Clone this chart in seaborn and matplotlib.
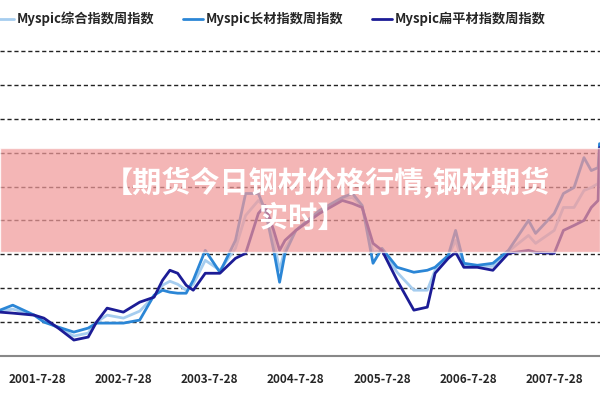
import matplotlib
matplotlib.use("Agg")
import matplotlib.pyplot as plt
import matplotlib.patches as mpatches
from matplotlib.lines import Line2D
import seaborn as sns
import pandas as pd

dates = ["2001-02-20","2001-04-15","2001-07-15","2001-08-25","2001-10-25","2001-12-30",
         "2002-03-01","2002-04-05","2002-05-20","2002-07-28","2002-10-05","2002-12-05",
         "2003-01-10","2003-02-10","2003-03-15","2003-04-20","2003-05-20","2003-07-10",
         "2003-09-10","2003-11-15","2003-12-28","2004-02-20","2004-03-20","2004-04-25",
         "2004-05-20","2004-06-12","2004-07-28","2004-11-05","2005-02-10","2005-03-25",
         "2005-05-05","2005-06-20","2005-07-28","2005-09-30","2005-12-10","2006-02-05",
         "2006-03-10","2006-05-05","2006-06-05","2006-07-10","2006-09-05","2006-11-10",
         "2007-01-15","2007-04-10","2007-05-10","2007-07-28","2007-09-05","2007-10-20",
         "2007-12-01","2008-01-01","2008-01-30","2008-02-05"]
long_idx = [46,51,41,34,29,24,28,33,33,33,36,61,66,64,63,63,76,106,84,116,163,163,146,106,
            74,103,126,146,159,163,151,93,108,89,84,86,89,101,126,93,91,93,106,136,123,143,
            163,169,199,186,189,213]
flat_idx = [44,43,41,38,28,16,19,34,48,44,54,59,76,86,83,71,66,83,83,98,103,143,151,126,
            106,116,126,143,156,153,149,113,106,76,46,49,83,98,104,89,89,86,103,106,104,103,
            126,131,136,149,156,209]
comp_idx = [45,47,41,36,28,20,23,34,41,38,45,60,71,75,72,66,72,96,86,108,141,156,149,116,
            86,108,126,144,158,159,150,104,106,84,66,66,86,100,116,91,90,90,105,121,113,126,
            149,149,166,169,173,206]
names = ["Myspic综合指数周指数", "Myspic长材指数周指数", "Myspic扁平材指数周指数"]
colors = ["#a6cdef", "#2b86d6", "#1c1c96"]
tick_labels = ["2001-7-28","2002-7-28","2003-7-28","2004-7-28","2005-7-28","2006-7-28","2007-7-28"]

rows = []
for name, vals in zip(names, [comp_idx, long_idx, flat_idx]):
    for d, v in zip(dates, vals):
        rows.append({"date": pd.Timestamp(d), "value": v, "series": name})
df = pd.DataFrame(rows)

sns.set_style("white")
plt.rcParams['font.family'] = ['Noto Sans CJK SC', 'DejaVu Sans']
fig = plt.figure(figsize=(6, 4), dpi=100)
ax = fig.add_axes([0, 0.11, 1, 0.80])
sns.lineplot(data=df, x="date", y="value", hue="series", palette=colors,
             hue_order=names, linewidth=2, ax=ax, legend=False)
ax.set_xlim(pd.Timestamp("2001-02-20"), pd.Timestamp("2008-02-07"))
ax.set_ylim(0, 321)
ax.set_yticks([34*k for k in range(1, 10)])
ax.set_yticklabels([])
ax.yaxis.grid(True, linestyle=(0, (3, 2)), color="#222222", linewidth=1)
ax.tick_params(axis="y", length=0)
ticks = [pd.Timestamp(t) for t in ["2001-07-28","2002-07-28","2003-07-28","2004-07-28",
                                    "2005-07-28","2006-07-28","2007-07-28"]]
ax.set_xticks(ticks)
ax.set_xticklabels(tick_labels, fontsize=8.5, fontweight="bold")
ax.tick_params(axis="x", direction="out", length=4, color="#555555", pad=8)
ax.set_xlabel(""); ax.set_ylabel("")
for s in ["left", "right", "top"]:
    ax.spines[s].set_visible(False)
ax.spines["bottom"].set_color("#888888")
ax.spines["bottom"].set_linewidth(1.5)

handles = [Line2D([0], [0], color=c, lw=2) for c in colors]
fig.legend(handles, names, loc="upper left", bbox_to_anchor=(-0.03, 1.0), ncol=3,
           frameon=False, handlelength=1.5, handletextpad=0.2, columnspacing=2.2,
           prop={"weight": "bold", "size": 9.5})

fig.patches.append(mpatches.Rectangle((0, 1 - 252/400), 1, 104/400, transform=fig.transFigure,
                                      facecolor="#f09a9a", alpha=0.72, zorder=5))
fig.text(0.545, 1 - 182/400, "【期货今日钢材价格行情,钢材期货", ha="center", va="center",
         color="white", fontsize=21, fontweight="bold", zorder=6)
fig.text(0.505, 1 - 218/400, "实时】", ha="center", va="center",
         color="white", fontsize=21, fontweight="bold", zorder=6)
fig.savefig("out.png", dpi=100)
